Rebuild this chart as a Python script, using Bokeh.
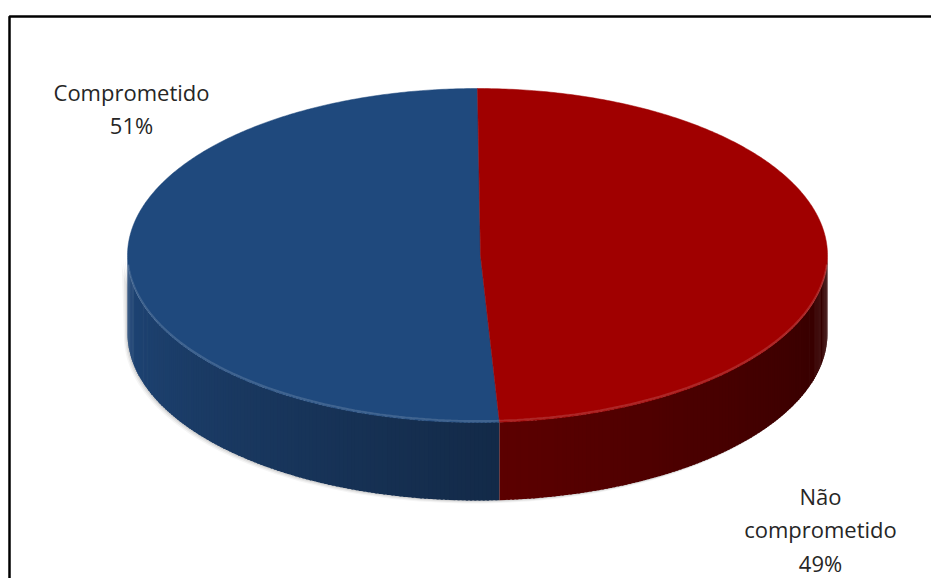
import math
from bokeh.plotting import figure
from bokeh.models import Range1d, BoxAnnotation, ColumnDataSource
from bokeh.core.properties import value
from bokeh.embed import file_html
from bokeh.resources import INLINE

# ---- data ----
categories = ["Comprometido", "Não comprometido"]
shares = [51, 49]
display_labels = ["Comprometido", "Não\ncomprometido"]

# ---- style ----
top_colors = [(31, 73, 125), (160, 0, 0)]
side_left = [(31, 70, 120), (92, 0, 0)]
side_right = [(19, 42, 72), (48, 0, 0)]
label_anchor = [(131, 76), (820, 480)]

W, H = 931, 578
cx, cy = 477.0, 255.0
a, b = 350.0, 167.0
depth = 78.0

p = figure(width=W, height=H, x_range=Range1d(0, W), y_range=Range1d(H, 0),
           output_backend="svg", toolbar_location=None, min_border=0)
p.axis.visible = False
p.grid.visible = False
p.outline_line_color = None
p.background_fill_color = "white"
p.border_fill_color = "white"

# frame
p.add_layout(BoxAnnotation(left=9, right=W + 20, top=16, bottom=H + 20,
                           fill_alpha=0, line_color="black", line_alpha=1.0,
                           line_width=2.5))

def pt(theta, dy=0.0):
    return cx + a * math.cos(theta), cy - b * math.sin(theta) + dy

total = float(sum(shares))
start = math.pi / 2
ranges = []
for s in shares:
    span = 2 * math.pi * s / total
    ranges.append((start, start + span))
    start += span

def hexc(c):
    return "#%02x%02x%02x" % tuple(int(round(max(0, min(255, v)))) for v in c)

# soft shadow
for k, al in [(6, 0.04), (4, 0.06), (2, 0.08)]:
    xs, ys = [], []
    n = 120
    for i in range(n + 1):
        t = math.pi + math.pi * i / n
        x, y = pt(t, depth)
        xs.append(x - k * 0.6)
        ys.append(y + k * 0.5)
    for i in range(n + 1):
        t = 2 * math.pi - math.pi * i / n
        x, y = pt(t, 0)
        xs.append(x - k)
        ys.append(y)
    p.patch(xs, ys, fill_color="black", fill_alpha=al, line_color=None)

# side walls
sx, sy, sc = [], [], []
for idx, (t0, t1) in enumerate(ranges):
    segs = []
    for off in (0.0, 2 * math.pi):
        lo = max(t0 - off, math.pi)
        hi = min(t1 - off, 2 * math.pi)
        if hi > lo:
            segs.append((lo, hi))
    for (u0, u1) in segs:
        n = max(2, int((u1 - u0) / 0.012))
        for i in range(n):
            ta = u0 + (u1 - u0) * i / n
            tb = u0 + (u1 - u0) * (i + 1) / n
            if i < n - 1:
                tb += 0.006
            tm = (ta + tb) / 2
            f = min(1.0, (tm - u0) / (u1 - u0))
            c = [side_left[idx][j] + (side_right[idx][j] - side_left[idx][j]) * f for j in range(3)]
            xa, ya = pt(ta)
            xb, yb = pt(tb)
            xa2, ya2 = pt(ta, depth)
            xb2, yb2 = pt(tb, depth)
            sx.append([xa, xb, xb2, xa2])
            sy.append([ya, yb, yb2, ya2])
            sc.append(hexc(c))
p.patches(sx, sy, fill_color=sc, line_color=None)

# top surface
for idx, (t0, t1) in enumerate(ranges):
    n = max(4, int((t1 - t0) / 0.01))
    xs = [cx + 3.0]
    ys = [cy]
    for i in range(n + 1):
        t = t0 + (t1 - t0) * i / n
        x, y = pt(t)
        xs.append(x)
        ys.append(y)
    col = hexc(top_colors[idx])
    p.patch(xs, ys, fill_color=col, line_color=col, line_width=0.5)

# rim highlight
hx, hy = [], []
n = 160
for i in range(n + 1):
    t = math.pi * 1.02 + math.pi * 0.96 * i / n
    x, y = pt(t, -1.5)
    hx.append(x)
    hy.append(y)
p.line(hx, hy, line_color="white", line_alpha=0.15, line_width=2)

# labels
lab = ColumnDataSource(dict(
    x=[label_anchor[i][0] for i in range(len(categories))],
    y=[label_anchor[i][1] for i in range(len(categories))],
    text=["%s\n%d%%" % (display_labels[i], shares[i]) for i in range(len(categories))],
))
p.text(x="x", y="y", text="text", source=lab, text_align="center", text_baseline="top",
       text_font=value("Open Sans"), text_font_size="22px", text_color="#262626",
       text_line_height=1.12)

open("out.html", "w").write(file_html(p, INLINE))
